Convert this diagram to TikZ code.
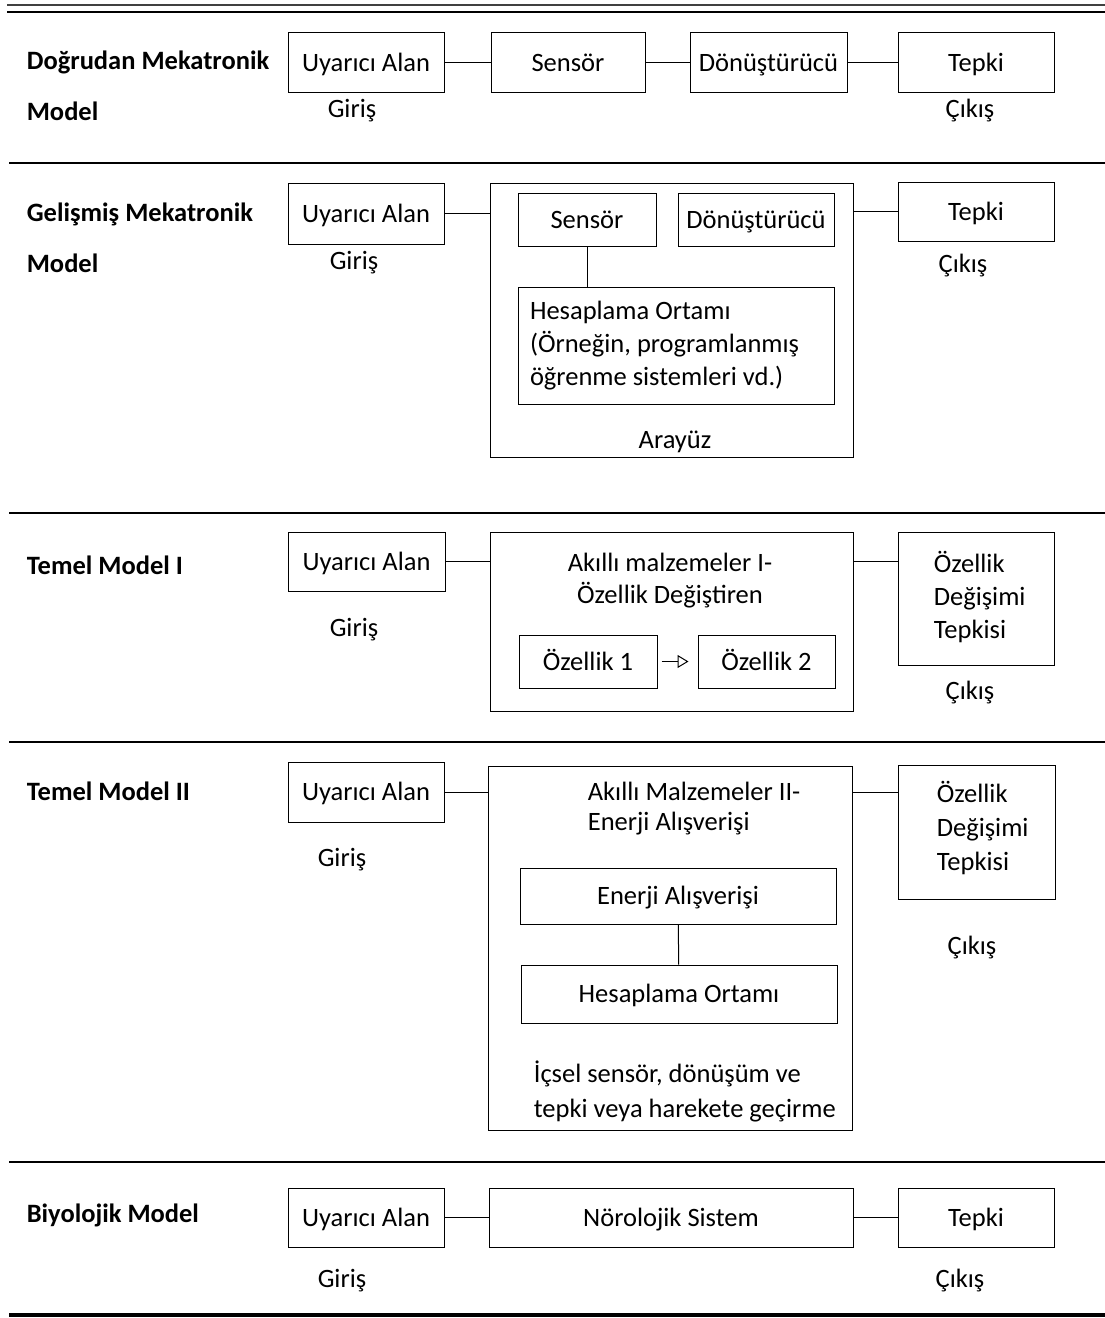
\documentclass[tikz,border=0pt]{standalone}
\usepackage{fontspec}
\setmainfont{Carlito}
\usetikzlibrary{arrows.meta}

\tikzset{
  box/.style={draw, minimum width=156pt, minimum height=60pt, inner sep=0pt},
  cell/.style={box, text height=20pt, text depth=3pt},
  title/.style={anchor=west, font=\fontsize{26.5}{33}\selectfont\bfseries},
  sepline/.style={line width=2.5pt},
}

\begin{document}
\begin{tikzpicture}[x=1pt, y=-1pt, line width=1pt, font=\fontsize{26.5}{33}\selectfont]
\useasboundingbox (0,0) rectangle (1105,1318);

% --- Rules between the models ---
\draw[line width=2pt, black!75] (7,5) -- (1105,5);
\draw[sepline] (7,12) -- (1105,12);
\draw[sepline] (9,163) -- (1105,163);
\draw[sepline] (9,513) -- (1105,513);
\draw[sepline] (9,742) -- (1105,742);
\draw[sepline] (9,1162) -- (1105,1162);
\draw[line width=3.5pt] (9,1315) -- (1105,1315);

% --- Dogrudan Mekatronik Model ---
\node[title] (m1) at (23,62) {Doğrudan Mekatronik};
\node[title] (m1b) at (23,111) {Model};
\node[cell] (u1) at (366,62.5) {Uyarıcı Alan};
\node[cell, minimum width=154pt] (s1) at (568,62.5) {Sensör};
\node[cell, minimum width=157pt] (d1) at (768.5,62.5) {Dönüştürücü};
\node[cell] (t1) at (976,62.5) {Tepki};
\node (g1) at (352,111) {Giriş};
\node (c1) at (970,111) {Çıkış};
\draw (u1) -- (s1);
\draw (s1) -- (d1);
\draw (d1) -- (t1);

% --- Gelismis Mekatronik Model ---
\node[title] (m2) at (23,214) {Gelişmiş Mekatronik};
\node[title] (m2b) at (23,263) {Model};
\node[cell, minimum height=61pt] (u2) at (366,213.5) {Uyarıcı Alan};
\node[box, minimum width=363pt, minimum height=274pt] (a2) at (671.5,320) {};
\node[cell, minimum width=138pt, minimum height=53pt] (s2) at (587,219.5) {Sensör};
\node[cell, minimum width=156pt, minimum height=53pt] (d2) at (756,219.5) {Dönüştürücü};
\node[box, minimum width=316pt, minimum height=117pt, text width=292pt, align=flush left] (h2) at (676,345.5)
  {Hesaplama Ortamı\\(Örneğin, programlanmış\\öğrenme sistemleri vd.)};
\node (ay2) at (675,442) {Arayüz};
\node[cell, minimum height=59pt] (t2) at (976,211.5) {Tepki};
\node (g2) at (354,263) {Giriş};
\node (c2) at (963,266) {Çıkış};
\draw (u2.east) -- (u2.east -| a2.west);
\draw (a2.east |- t2.west) -- (t2.west);
\draw (s2.south) -- (s2.south |- h2.north);

% --- Temel Model I ---
\node[title] (m3) at (23,565) {Temel Model I};
\node[cell, minimum width=157pt, minimum height=59pt] (u3) at (366.5,561.5) {Uyarıcı Alan};
\node[box, minimum width=363pt, minimum height=179pt] (a3) at (671.5,621.5) {};
\node[align=center, font=\fontsize{26.5}{32}\selectfont] (k3) at (670,581) {Akıllı malzemeler I-\\Özellik Değiştiren};
\node[cell, minimum width=138pt, minimum height=53pt] (o1) at (588,661.5) {Özellik 1};
\node[cell, minimum width=137pt, minimum height=53pt] (o2) at (766.5,661.5) {Özellik 2};
\draw[-{Triangle[open, length=11pt, width=13pt]}, shorten <=4pt, shorten >=9pt] (o1) -- (o2);
\node[box, minimum height=133pt] (t3) at (976,598.5) {};
\node[anchor=west, align=left] (x3) at (930,597) {Özellik\\Değişimi\\Tepkisi};
\node (g3) at (354,630) {Giriş};
\node (c3) at (970,693) {Çıkış};
\draw (u3.east) -- (u3.east -| a3.west);
\draw (u3.east -| a3.east) -- (u3.east -| t3.west);

% --- Temel Model II ---
\node[title] (m4) at (23,791) {Temel Model II};
\node[cell] (u4) at (366,792) {Uyarıcı Alan};
\node[box, minimum width=364pt, minimum height=364pt] (a4) at (670,948) {};
\node[anchor=west, align=left, font=\fontsize{26.5}{30}\selectfont] (k4) at (584,809) {Akıllı Malzemeler II-\\Enerji Alışverişi};
\node[cell, minimum width=316pt, minimum height=56pt] (e4) at (678,896) {Enerji Alışverişi};
\node[cell, minimum width=316pt, minimum height=58pt] (h4) at (679,994) {Hesaplama Ortamı};
\draw (e4) -- (h4);
\node[anchor=west, align=left, font=\fontsize{26.5}{35}\selectfont] (i4) at (530,1091) {İçsel sensör, dönüşüm ve\\tepki veya harekete geçirme};
\node[box, minimum width=157pt, minimum height=134pt] (t4) at (976.5,832) {};
\node[anchor=west, align=left, font=\fontsize{26.5}{34}\selectfont] (x4) at (933,828) {Özellik\\Değişimi\\Tepkisi};
\node (g4) at (342,860) {Giriş};
\node (c4) at (972,948) {Çıkış};
\draw (u4.east) -- (u4.east -| a4.west);
\draw (u4.east -| a4.east) -- (u4.east -| t4.west);

% --- Biyolojik Model ---
\node[title] (m5) at (23,1215) {Biyolojik Model};
\node[cell, minimum height=59pt] (u5) at (366,1217.5) {Uyarıcı Alan};
\node[cell, minimum width=364pt, minimum height=59pt] (n5) at (671,1217.5) {Nörolojik Sistem};
\node[cell, minimum height=59pt] (t5) at (976,1217.5) {Tepki};
\node (g5) at (342,1281) {Giriş};
\node (c5) at (960,1281) {Çıkış};
\draw (u5) -- (n5);
\draw (n5) -- (t5);

\end{tikzpicture}
\end{document}
